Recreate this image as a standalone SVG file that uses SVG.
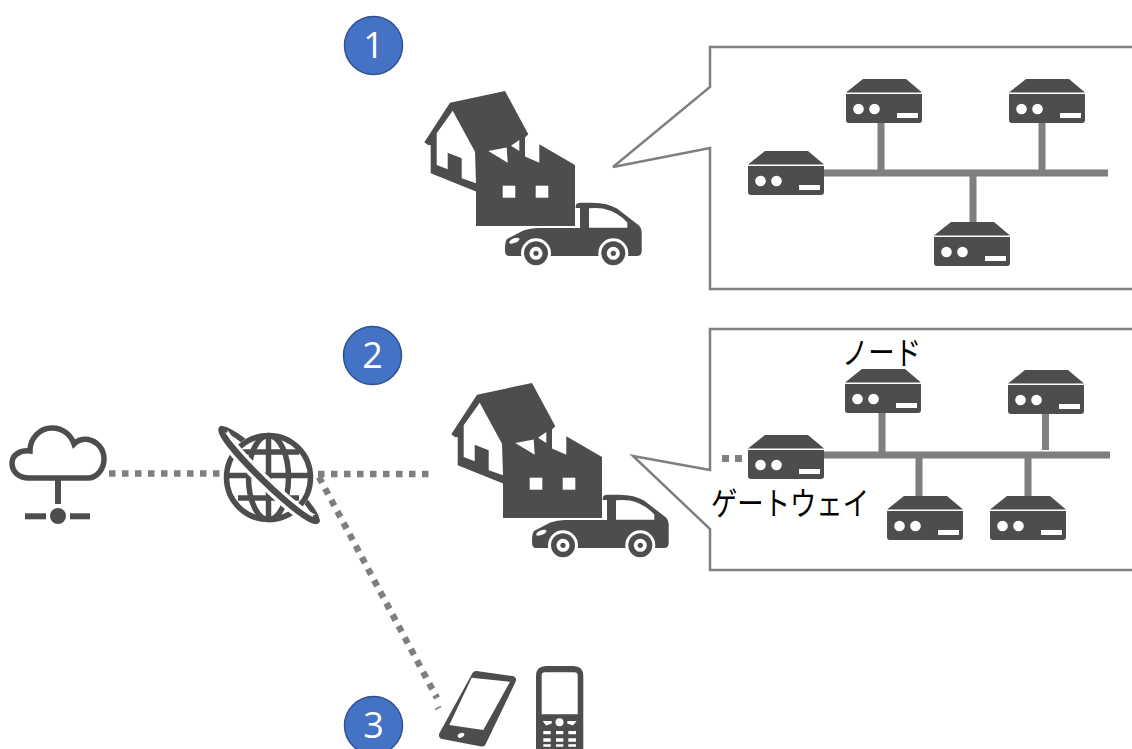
<svg xmlns="http://www.w3.org/2000/svg" xmlns:xlink="http://www.w3.org/1999/xlink" width="1132" height="749" viewBox="0 0 1132 749">
<style>
.d{fill:#4d4d4d}
.w{fill:#fff}
.ds{fill:none;stroke:#4d4d4d;stroke-width:5.5}
.bus{stroke:#7f7f7f;stroke-width:7;fill:none}
.dot{stroke:#7f7f7f;stroke-width:6.5;stroke-dasharray:6.5 6.5;fill:none}
.box{fill:#fff;stroke:#7f7f7f;stroke-width:2.5}
.num{fill:#4472c4;stroke:#2f528f;stroke-width:1.5}
.numt{font-family:"Open Sans","Noto Sans",sans-serif;font-size:36px;fill:#fff;text-anchor:middle}
.lab{font-family:"Noto Sans CJK JP",sans-serif;font-size:32px;fill:#000}
</style>
<defs>
<g id="device">
<path class="d" d="M17,0H60L76,13.500H0Z"/>
<path class="d" d="M0,15H76V41Q76,44 73,44H3Q0,44 0,41Z"/>
<circle class="w" cx="12.500" cy="30" r="5.300"/><circle class="w" cx="28.500" cy="30" r="5.300"/>
<rect class="w" x="51" y="34" width="21" height="5"/>
</g>
<g id="site">
<path class="d" d="M424.300,142.300L450,102.700L505,91L528.300,134.300L525,137.500V170H476.700V191.700L430.700,173.300V145L428,145Z"/>
<path class="w" d="M452.700,110.700L475,151.700L476,183.300L461.700,178.300V158.300L447.700,152.700V169.300L436.700,165V133.300Z"/>
<path class="d" d="M476,152L488,151L507.700,162.700V146L525,156.500L539.300,162.700V144.300L575,165V226H476Z"/>
<path class="w" d="M488.300,151L506.700,147.500L507.700,162.700ZM511,145.700L519.300,140V151Z"/>
<rect class="w" x="502.700" y="185.700" width="12.600" height="12"/>
<rect class="w" x="535.700" y="185.700" width="12.600" height="12"/>
<path class="d" d="M505,250Q505,241 507,239L523.300,230.500Q530,228 538,228H580V208H575.700V206Q576,202.700 581,202.700H592Q608,203 617,208.500L639,225.500Q641.700,228 641.700,232V251Q641.700,256 637,256H509Q505,256 505,250Z"/>
<path class="w" d="M589,208.300V227.700H627.300V222.500Q618,212 603,208.500Q596,207.700 589,208.300Z"/>
<ellipse class="w" cx="514.300" cy="240.700" rx="5.500" ry="2.300" transform="rotate(-22 514.300 240.700)"/>
<g><circle class="w" cx="536" cy="253.300" r="15"/><circle class="d" cx="536" cy="253.300" r="12"/><circle class="w" cx="536" cy="253.300" r="6.500"/><circle class="d" cx="536" cy="253.300" r="2.600"/></g>
<g><circle class="w" cx="613.300" cy="253.300" r="15"/><circle class="d" cx="613.300" cy="253.300" r="12"/><circle class="w" cx="613.300" cy="253.300" r="6.500"/><circle class="d" cx="613.300" cy="253.300" r="2.600"/></g>
</g>
</defs>

<g id="connectors">
<path class="dot" d="M109,473.500H224"/>
<path class="dot" d="M318,474H430"/>
<path class="dot" d="M319,477L437,698"/>
<path d="M435,709.500L441,706.500" stroke="#7f7f7f" stroke-width="1.500" fill="none"/>
</g>

<g id="badge1"><circle class="num" cx="373.500" cy="45.500" r="29"/><text class="numt" x="373.500" y="58">1</text></g>
<g id="badge2"><circle class="num" cx="372.500" cy="355.500" r="29"/><text class="numt" x="372.500" y="368">2</text></g>
<g id="badge3"><circle class="num" cx="373.500" cy="725.500" r="29"/><text class="numt" x="373.500" y="738">3</text></g>

<g id="site1"><use xlink:href="#site" href="#site"/></g>
<g id="site2"><use xlink:href="#site" href="#site" x="27" y="292"/></g>

<g id="callout1">
<path class="box" d="M1134,47H710V87L613,167L710,148V289H1134"/>
<path class="bus" d="M824,173H1108M881,123V170M1042,123V170M973,176V222"/>
<use href="#device" x="748" y="151"/>
<use href="#device" x="846" y="79"/>
<use href="#device" x="1009" y="79"/>
<use href="#device" x="934" y="222"/>
</g>

<g id="callout2">
<path class="box" d="M1134,329H710V470L633,456L710,529V570H1134"/>
<path class="bus" d="M824,455H1110M882,411V452M1045.500,413V450M919,458V496M1028,458V496"/>
<path class="bus" d="M722,458.500H748" stroke-dasharray="7 6"/>
<use href="#device" x="748" y="435"/>
<use href="#device" x="845" y="369"/>
<use href="#device" x="1008" y="370"/>
<use href="#device" x="887" y="496"/>
<use href="#device" x="990" y="496"/>
<text class="lab" x="842" y="364" textLength="79" lengthAdjust="spacingAndGlyphs">ノード</text>
<text class="lab" x="711" y="515" textLength="158" lengthAdjust="spacingAndGlyphs">ゲートウェイ</text>
</g>

<g id="cloud">
<path class="ds" d="M29,478C18,478 12,471 12,463C12,455 20,450 30,451C30,438 40,428 52,428C63,428 71,435 74,444C78,440 84,439 88,439.500C97,441 104,449 104,459C104,470 96,478 88,478Z"/>
<rect class="d" x="55" y="480" width="6" height="24"/>
<circle class="d" cx="58" cy="516" r="8"/>
<rect class="d" x="25" y="513.300" width="21" height="6"/>
<rect class="d" x="70" y="513.300" width="20" height="6"/>
</g>

<g id="globe">
<g transform="rotate(44 269 475)"><path class="ds" d="M203,475A66,9 0 0 1 335,475"/></g>
<circle class="w" cx="268.500" cy="477.500" r="45"/>
<circle class="ds" cx="268.500" cy="477.500" r="42"/>
<ellipse class="ds" cx="268.500" cy="477.500" rx="20" ry="42"/>
<path class="ds" d="M268.500,435V520M226,475.500H311M238,452H299M238,498H299"/>
<g transform="rotate(44 269 475)">
<path d="M203,475A66,8 0 0 0 335,475" fill="none" stroke="#fff" stroke-width="13"/>
<path class="ds" style="stroke-width:6.500" stroke-linecap="round" d="M203,475A66,8 0 0 0 335,475"/>
</g>
</g>

<g id="smartphone">
<path class="d" stroke="#4d4d4d" stroke-width="8" stroke-linejoin="round" d="M476,675L512,680L482,742.500L443,735Z"/>
<path class="w" d="M471.700,677.700L510,681.700L483.300,730L449.300,725Z"/>
<ellipse class="w" cx="461" cy="735.300" rx="3.500" ry="2.200" transform="rotate(-25 461 735.300)"/>
</g>

<g id="featurephone">
<path class="d" d="M546,666H573.500Q583.300,666 583.300,676V749H536V676Q536,666 546,666Z"/>
<path class="w" d="M545,672.300H574.500Q577.700,672.300 577.700,675.500V714.300H541.700V675.500Q541.700,672.300 545,672.300Z"/>
<circle class="w" cx="559.500" cy="722.300" r="4"/>
<path class="w" d="M542.700,721H551.700V723.500L546,725.500ZM576.700,721H567.300V723.500L573,725.500Z"/>
<path class="w" d="M543.300,731H550.700V734.300H543.300ZM556,731H563.300V734.300H556ZM568.300,731H576V734.300H568.300ZM543.300,738.300H550.700V741.700H543.300ZM556,738.300H563.300V741.700H556ZM568.300,738.300H576V741.700H568.300ZM543.300,744.300H550.700V746.700H543.300ZM556,744.300H563.300V746.700H556ZM568.300,744.300H576V746.700H568.300Z"/>
</g>
</svg>
